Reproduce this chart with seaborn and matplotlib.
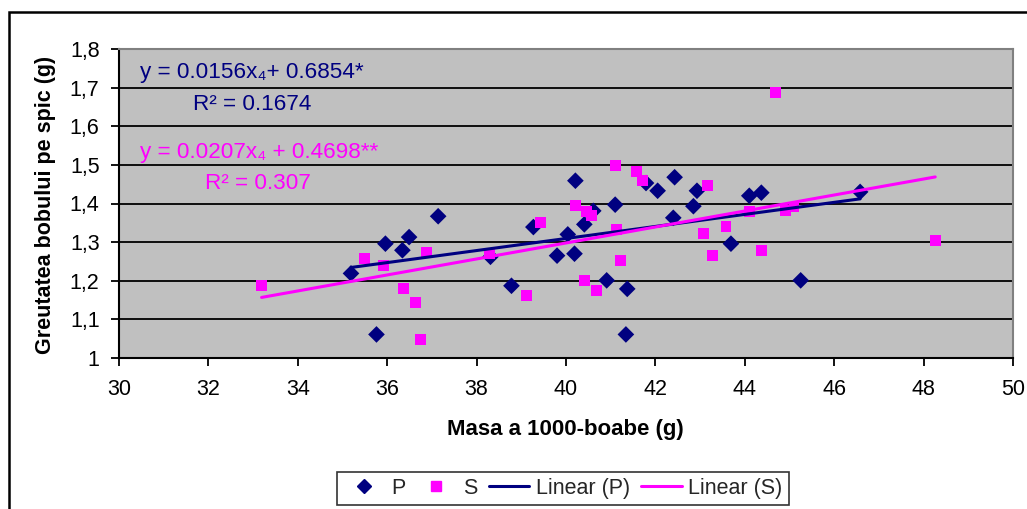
import numpy as np
import pandas as pd
import matplotlib
matplotlib.use("Agg")
import matplotlib.pyplot as plt
import seaborn as sns
from matplotlib.lines import Line2D
from matplotlib.patches import Rectangle

# ---------------- data ----------------
p_x = [35.19, 35.76, 35.96, 36.34, 36.49, 37.14, 38.31, 38.78, 39.27, 39.80,
       40.04, 40.19, 40.21, 40.41, 40.61, 40.91, 41.10, 41.34, 41.37, 41.79,
       42.05, 42.40, 42.43, 42.85, 42.93, 43.69, 44.10, 44.37, 45.25, 46.58]
p_y = [1.219, 1.061, 1.296, 1.279, 1.313, 1.367, 1.262, 1.187, 1.339, 1.265,
       1.320, 1.270, 1.459, 1.346, 1.381, 1.201, 1.397, 1.061, 1.179, 1.453,
       1.433, 1.363, 1.468, 1.393, 1.433, 1.296, 1.420, 1.428, 1.201, 1.430]

s_x = [33.19, 35.50, 35.92, 36.37, 36.64, 36.75, 36.87, 38.28, 39.12, 39.43,
       40.22, 40.41, 40.45, 40.58, 40.68, 41.10, 41.14, 41.22, 41.57, 41.72,
       43.08, 43.16, 43.28, 43.58, 44.10, 44.37, 44.68, 44.91, 45.10, 48.26]
s_y = [1.187, 1.258, 1.239, 1.179, 1.143, 1.048, 1.273, 1.270, 1.161, 1.350,
       1.394, 1.201, 1.380, 1.370, 1.174, 1.498, 1.333, 1.253, 1.484, 1.459,
       1.323, 1.446, 1.265, 1.341, 1.380, 1.279, 1.688, 1.383, 1.391, 1.305]

series_names = ["P", "S"]
fit_slope = [0.0156, 0.0207]
fit_intercept = [0.6854, 0.4698]
fit_labels = ["Linear (P)", "Linear (S)"]
eq_texts = ["y = 0.0156x\u2084+ 0.6854*", "y = 0.0207x\u2084 + 0.4698**"]
r2_texts = ["R\u00b2 = 0.1674", "R\u00b2 = 0.307"]

x_ticks = [30, 32, 34, 36, 38, 40, 42, 44, 46, 48, 50]
y_ticks = [1.0, 1.1, 1.2, 1.3, 1.4, 1.5, 1.6, 1.7, 1.8]
y_tick_labels = ["1", "1,1", "1,2", "1,3", "1,4", "1,5", "1,6", "1,7", "1,8"]

x_label = "Masa a 1000-boabe (g)"
y_label = "Greutatea bobului pe spic (g)"

# ---------------- style ----------------
sns.set_theme(style="white")
plt.rcParams["font.family"] = ["Liberation Sans", "DejaVu Sans"]

NAVY = "#000080"
MAGENTA = "#FF00FF"
FS = 15.5
FS_EQ = 16.2

W, H = 1027, 509
fig = plt.figure(figsize=(W / 100, H / 100), dpi=100)
fig.patch.set_facecolor("white")
ax = fig.add_axes([119 / W, 1 - 358 / H, (1013 - 119) / W, (358 - 49) / H])
ax.set_facecolor("#C0C0C0")

df_p = pd.DataFrame({"x": p_x, "y": p_y})
df_s = pd.DataFrame({"x": s_x, "y": s_y})

sns.scatterplot(data=df_p, x="x", y="y", marker="D", color=NAVY, s=72,
                edgecolor="none", ax=ax, zorder=3, legend=False)
sns.scatterplot(data=df_s, x="x", y="y", marker="s", color=MAGENTA, s=62,
                edgecolor="none", ax=ax, zorder=3, legend=False)

colors = [NAVY, MAGENTA]
for xs_data, slope, icpt, col in zip([p_x, s_x], fit_slope, fit_intercept, colors):
    xs = np.array([min(xs_data), max(xs_data)])
    ys = slope * xs + icpt
    sns.lineplot(x=xs, y=ys, color=col, lw=2.2, ax=ax, zorder=4, legend=False)

ax.set_xlim(30, 50)
ax.set_ylim(1.0, 1.8)
ax.set_xticks(x_ticks)
ax.set_xticklabels([str(t) for t in x_ticks])
ax.set_yticks(y_ticks)
ax.set_yticklabels(y_tick_labels)
ax.grid(axis="y", color="black", lw=1.3)
ax.grid(axis="x", visible=False)
ax.set_axisbelow(True)

for side in ["left", "bottom"]:
    ax.spines[side].set_color("black")
    ax.spines[side].set_linewidth(1.5)
for side in ["top", "right"]:
    ax.spines[side].set_color("#808080")
    ax.spines[side].set_linewidth(1.5)

ax.tick_params(axis="both", direction="out", length=6, width=1.3, color="black",
               labelsize=FS, labelcolor="black", bottom=True, left=True)
ax.tick_params(axis="x", pad=9)
ax.tick_params(axis="y", pad=8)

ax.set_xlabel(x_label, fontsize=FS + 0.5, fontweight="bold", color="black")
ax.set_ylabel(y_label, fontsize=FS, fontweight="bold", color="black")
ax.xaxis.label.set_va("center")
ax.xaxis.set_label_coords(0.499, -(430 - 358) / 309)
ax.yaxis.label.set_va("center")
ax.yaxis.set_label_coords((46 - 119) / 894, (358 - 205) / 309)

# equations
ax.text(30.46, 1.740, eq_texts[0], color=NAVY, fontsize=FS_EQ, va="center", ha="left")
ax.text(31.65, 1.657, r2_texts[0], color=NAVY, fontsize=FS_EQ, va="center", ha="left")
ax.text(30.46, 1.533, eq_texts[1], color=MAGENTA, fontsize=FS_EQ, va="center", ha="left")
ax.text(31.92, 1.453, r2_texts[1], color=MAGENTA, fontsize=FS_EQ, va="center", ha="left")

# legend
handles = [
    Line2D([], [], marker="D", color=NAVY, ls="none", markersize=7),
    Line2D([], [], marker="s", color=MAGENTA, ls="none", markersize=6.5),
    Line2D([], [], color=NAVY, lw=2.2),
    Line2D([], [], color=MAGENTA, lw=2.2),
]
labels = series_names + fit_labels
leg = fig.legend(handles, labels, loc="center", bbox_to_anchor=(563 / W, 1 - 488.5 / H),
                 ncol=4, frameon=True, fancybox=False, edgecolor="black",
                 fontsize=FS, handlelength=1.9, handletextpad=0.3,
                 columnspacing=0.5, borderpad=0.3)
leg.get_frame().set_linewidth(1.2)

# outer chart border
fig.add_artist(Rectangle((9 / W, -0.1), 1.2, 1 - 12 / H + 0.1, transform=fig.transFigure,
                         fill=False, lw=1.8, ec="black"))

fig.savefig("out.png", dpi=100)
